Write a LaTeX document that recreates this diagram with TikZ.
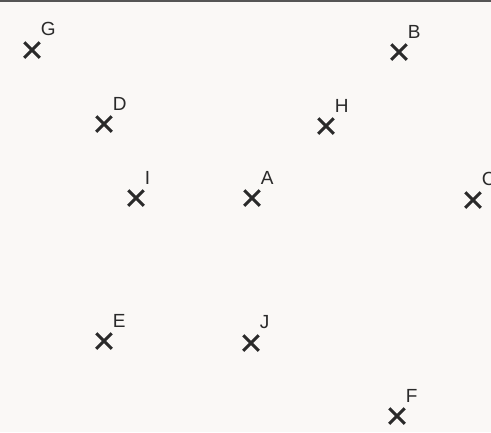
\documentclass[tikz,border=0pt]{standalone}
\usepackage{fontspec}
\setmainfont{Liberation Sans}
\usetikzlibrary{shapes.misc}
\definecolor{ScanInk}{HTML}{2A2A2A}
\definecolor{ScanPaper}{HTML}{FAF8F6}
\definecolor{ScanEdge}{HTML}{555555}

\begin{document}
\begin{tikzpicture}[
      x=1pt,y=-1pt,
      xmark/.style={draw=ScanInk,cross out,line width=3pt,
        minimum size=12.5pt,inner sep=0pt,
        label={[tag]north east:#1}},
      tag/.style={font=\fontsize{19}{19}\selectfont,text=ScanInk,
        anchor=south west,inner sep=0pt,xshift=1pt,yshift=6pt}
    ]
    \path[use as bounding box,fill=ScanPaper] (0,0) rectangle (491,432);
    \coordinate (edgeL) at (0,1);
    \coordinate (edgeR) at (491,1);
    \draw[ScanEdge,line width=2pt] (edgeL) -- (edgeR);

    \node[xmark=G] (G) at (32,50) {};
    \node[xmark=B] (B) at (399,52) {};
    \node[xmark=D] (D) at (104,124) {};
    \node[xmark=H] (H) at (326,126) {};
    \node[xmark=I] (I) at (136,198) {};
    \node[xmark=A] (A) at (252,198) {};
    \node[xmark=C] (C) at (473,200) {};
    \node[xmark=E] (E) at (104,341) {};
    \node[xmark=J] (J) at (251,343) {};
    \node[xmark=F] (F) at (397,416) {};
  \end{tikzpicture}
\end{document}
